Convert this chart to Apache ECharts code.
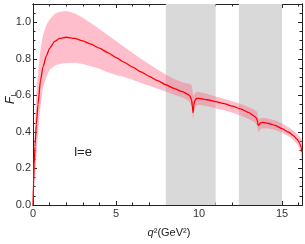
<!DOCTYPE html>
<html>
<head>
<meta charset="utf-8">
<script src="https://cdn.jsdelivr.net/npm/echarts@6/dist/echarts.min.js"></script>
<style>
html,body{margin:0;padding:0;background:#fff;}
#c{width:305px;height:244px;}
</style>
</head>
<body>
<div id="c"></div>
<script>
// ---- data ----
const q2 = [0, 0.03, 0.07, 0.12, 0.2, 0.3, 0.45, 0.6, 0.8, 1.0, 1.3, 1.6, 2.0, 2.5, 3.0, 3.5, 4.0, 4.5, 5.0, 5.5, 6.0, 6.5, 7.0, 7.5, 8.0, 8.5, 9.0, 9.3, 9.45, 9.55, 9.6, 9.64, 9.68, 9.75, 9.85, 10.0, 10.5, 11.0, 11.5, 12.0, 12.5, 13.0, 13.3, 13.45, 13.52, 13.56, 13.62, 13.7, 13.85, 14.2, 14.6, 15.0, 15.4, 15.7, 15.9, 16.05, 16.15, 16.2];
const fLCentral = [0, 0.12, 0.22, 0.32, 0.44, 0.55, 0.68, 0.755, 0.815, 0.857, 0.895, 0.912, 0.918, 0.912, 0.898, 0.88, 0.858, 0.834, 0.807, 0.781, 0.755, 0.729, 0.704, 0.681, 0.658, 0.638, 0.62, 0.607, 0.597, 0.575, 0.54, 0.505, 0.545, 0.572, 0.583, 0.584, 0.576, 0.566, 0.555, 0.541, 0.526, 0.505, 0.488, 0.476, 0.46, 0.435, 0.44, 0.449, 0.452, 0.446, 0.435, 0.418, 0.398, 0.378, 0.36, 0.34, 0.315, 0.29];
const fLUpper = [0, 0.2, 0.33, 0.45, 0.6, 0.72, 0.85, 0.93, 0.985, 1.015, 1.045, 1.058, 1.062, 1.05, 1.025, 0.995, 0.963, 0.93, 0.897, 0.865, 0.832, 0.8, 0.77, 0.741, 0.713, 0.69, 0.672, 0.665, 0.662, 0.655, 0.63, 0.6, 0.6, 0.612, 0.62, 0.618, 0.607, 0.594, 0.582, 0.568, 0.554, 0.535, 0.522, 0.515, 0.505, 0.48, 0.472, 0.475, 0.478, 0.472, 0.462, 0.446, 0.425, 0.405, 0.39, 0.375, 0.365, 0.355];
const fLLower = [0, 0.03, 0.08, 0.15, 0.27, 0.4, 0.54, 0.64, 0.7, 0.74, 0.762, 0.772, 0.777, 0.778, 0.772, 0.76, 0.745, 0.727, 0.712, 0.7, 0.685, 0.668, 0.652, 0.636, 0.621, 0.604, 0.588, 0.574, 0.562, 0.537, 0.497, 0.465, 0.5, 0.53, 0.545, 0.548, 0.54, 0.53, 0.518, 0.505, 0.49, 0.47, 0.455, 0.443, 0.425, 0.4, 0.405, 0.415, 0.42, 0.418, 0.41, 0.395, 0.375, 0.355, 0.335, 0.31, 0.27, 0.22];
const jpsiRange = [8, 11];
const psi2sRange = [12.4, 15];
const xRange = [0, 16.2];
const yRange = [0, 1.1];

// ---- build series data ----
const bandData = q2.map((x, i) => [x, fLLower[i], fLUpper[i]]);
const centralData = q2.map((x, i) => [x, fLCentral[i]]);
const vetoData = [jpsiRange, psi2sRange];

const FONT = 'Liberation Sans, Arial, sans-serif';
const AX = '#222';

function xAx(pos, interval, len, labels) {
  return {
    type: 'value', min: xRange[0], max: xRange[1], interval: interval, position: pos,
    axisLine: {show: true, onZero: false, lineStyle: {color: AX, width: 1}},
    axisTick: {show: true, inside: true, length: len, lineStyle: {color: AX, width: 1}},
    axisLabel: {show: labels, margin: 3, color: '#333', fontSize: 11, fontFamily: FONT,
      formatter: v => (Math.abs(v - Math.round(v)) < 1e-9 && Math.round(v) % 5 === 0) ? String(Math.round(v)) : ''},
    splitLine: {show: false}
  };
}
function yAx(pos, interval, len, labels) {
  return {
    type: 'value', min: yRange[0], max: yRange[1], interval: interval, position: pos,
    axisLine: {show: true, onZero: false, lineStyle: {color: AX, width: 1}},
    axisTick: {show: true, inside: true, length: len, lineStyle: {color: AX, width: 1}},
    axisLabel: {show: labels, margin: 2, color: '#333', fontSize: 11, fontFamily: FONT,
      formatter: v => { const k = v / 0.2; return Math.abs(k - Math.round(k)) < 1e-6 ? v.toFixed(1) : ''; }},
    splitLine: {show: false}
  };
}

const chart = echarts.init(document.getElementById('c'), null, {renderer: 'canvas'});
chart.setOption({
  animation: false,
  backgroundColor: '#fff',
  grid: {left: 33, right: 2, top: 4, bottom: 39, containLabel: false},
  xAxis: [xAx('bottom', 5, 4, true), xAx('bottom', 1, 2.5, false), xAx('top', 5, 4, false), xAx('top', 1, 2.5, false)],
  yAxis: [yAx('left', 0.2, 4, true), yAx('left', 0.05, 2.5, false), yAx('right', 0.2, 4, false), yAx('right', 0.05, 2.5, false)],
  series: [
    {
      type: 'custom', name: 'band', data: bandData, z: 2, silent: true,
      encode: {x: 0, y: [1, 2]},
      renderItem: function (params, api) {
        if (params.dataIndex !== 0) return null;
        const children = [];
        vetoData.forEach(function (r) {
          const a = api.coord([r[0], yRange[1]]);
          const b = api.coord([r[1], yRange[0]]);
          children.push({type: 'rect', z2: 0,
            shape: {x: a[0], y: a[1], width: b[0] - a[0], height: b[1] - a[1]},
            style: {fill: '#d9d9d9'}});
        });
        const pts = [];
        for (let i = 0; i < bandData.length; i++) pts.push(api.coord([bandData[i][0], bandData[i][2]]));
        for (let i = bandData.length - 1; i >= 0; i--) pts.push(api.coord([bandData[i][0], bandData[i][1]]));
        children.push({type: 'polygon', z2: 5, shape: {points: pts},
          style: {fill: 'rgba(255,100,130,0.42)', stroke: null}});
        return {type: 'group', children: children};
      }
    },
    {
      type: 'line', name: 'central', data: centralData, symbol: 'none',
      smooth: 0.2, smoothMonotone: 'x',
      lineStyle: {color: '#ff0000', width: 1.3}, z: 3
    }
  ],
  graphic: [
    {type: 'text', x: 11, y: 98, rotation: Math.PI / 2,
      style: {text: '{i|F}{s|L}', align: 'center', verticalAlign: 'middle',
        rich: {i: {fontFamily: FONT, fontStyle: 'italic', fontSize: 12, fill: '#222'},
               s: {fontFamily: FONT, fontSize: 8, fill: '#222', padding: [6, 0, 0, 0]}}}},
    {type: 'text', x: 169, y: 233,
      style: {text: '{i|q}{n|²(GeV²)}', align: 'center', verticalAlign: 'middle',
        rich: {i: {fontFamily: FONT, fontStyle: 'italic', fontSize: 11, fill: '#222'},
               n: {fontFamily: FONT, fontSize: 11, fill: '#222'}}}},
    {type: 'text', x: 182, y: 62,
      style: {text: '{n|J/}{i|ψ}', align: 'center', verticalAlign: 'middle',
        rich: {n: {fontFamily: FONT, fontSize: 12, fill: '#222'},
               i: {fontFamily: FONT, fontStyle: 'italic', fontSize: 12, fill: '#222'}}}},
    {type: 'text', x: 265, y: 62,
      style: {text: '{i|ψ}{n|(2S)}', align: 'center', verticalAlign: 'middle',
        rich: {n: {fontFamily: FONT, fontSize: 12, fill: '#222'},
               i: {fontFamily: FONT, fontStyle: 'italic', fontSize: 12, fill: '#222'}}}},
    {type: 'text', x: 83, y: 152,
      style: {text: 'l=e', align: 'center', verticalAlign: 'middle',
        fontFamily: FONT, fontSize: 13, fill: '#222'}}
  ]
});
</script>
</body>
</html>
